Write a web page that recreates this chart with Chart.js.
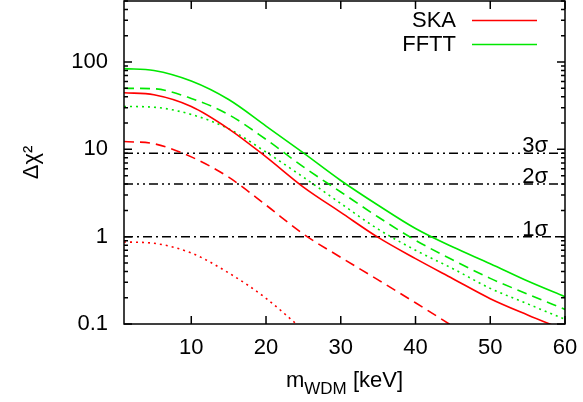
<!DOCTYPE html>
<html>
<head>
<meta charset="utf-8">
<script src="https://cdn.jsdelivr.net/npm/chart.js@4.4.1/dist/chart.umd.min.js"></script>
<style>
  html, body { margin: 0; padding: 0; background: #fff; }
  #wrap { width: 583px; height: 402px; }
</style>
</head>
<body>
<div id="wrap"><canvas id="grafica"></canvas></div>
<script>
// masas de WDM (keV) donde se leyeron las curvas
const masas = [1, 5, 10, 15, 20, 25, 30, 35, 40, 45, 50, 55, 60];

// SKA (rojo)
const skaSolida  = [44.5, 42.2, 31, 17.2, 8.2, 3.7, 1.9, 0.98, 0.56, 0.33, 0.195, 0.127, 0.085];
const skaGuiones = [12.3, 11.6, 8.2, 4.8, 2.3, 1.07, 0.58, 0.32, 0.175, 0.094, null, null, null];
const skaPuntos  = [0.87, 0.84, 0.65, 0.385, 0.197, 0.085, null, null, null, null, null, null, null];

// FFTT (verde)
const ffttSolida  = [84, 80, 60.6, 37.2, 18.5, 9.1, 4.4, 2.29, 1.24, 0.76, 0.49, 0.31, 0.205];
const ffttGuiones = [50, 49.4, 38.3, 25, 13, 6.3, 3.25, 1.68, 0.91, 0.54, 0.333, 0.22, 0.147];
const ffttPuntos  = [31, 30.4, 25.1, 17.2, 9.3, 4.8, 2.4, 1.22, 0.70, 0.43, 0.256, 0.17, 0.113];

// niveles de confianza
const niveles = [9, 4, 1];
const nivelesTexto = ['3σ', '2σ', '1σ'];

const ticksX = [10, 20, 30, 40, 50, 60];
const ticksY = [0.1, 1, 10, 100];

const ROJO = '#ff0000';
const VERDE = '#00e800';
const FUENTE = "'Liberation Sans', Arial, sans-serif";

const puntos = (arr) => masas.map((m, i) => ({ x: m, y: arr[i] })).filter(p => p.y !== null);

const curva = (arr, color, dash) => ({
    data: puntos(arr),
    borderColor: color,
    borderWidth: 1.6,
    borderDash: dash,
    pointRadius: 0,
    fill: false,
    cubicInterpolationMode: 'monotone'
});

const GUION = [10, 6];
const PUNTO = [2, 4];

const datasets = [
    curva(skaSolida, ROJO, []),
    curva(skaGuiones, ROJO, GUION),
    curva(skaPuntos, ROJO, PUNTO),
    curva(ffttSolida, VERDE, []),
    curva(ffttGuiones, VERDE, GUION),
    curva(ffttPuntos, VERDE, PUNTO)
];

// lineas horizontales de 3σ, 2σ (raya-punto-punto) y 1σ (raya-punto)
niveles.forEach((n, i) => {
    datasets.push({
        data: [{ x: masas[0], y: n }, { x: masas[masas.length - 1], y: n }],
        borderColor: '#000',
        borderWidth: 1.5,
        borderDash: i < 2 ? [9, 4, 2, 4, 2, 4] : [9, 4, 2, 4],
        pointRadius: 0,
        tension: 0
    });
});

const marco = {
    id: 'marco',
    afterDatasetsDraw(chart) {
        const { ctx, chartArea: a, scales: { x, y } } = chart;
        ctx.save();
        ctx.strokeStyle = '#000';
        ctx.lineWidth = 1.5;
        ctx.setLineDash([]);
        ctx.strokeRect(a.left, a.top, a.right - a.left, a.bottom - a.top);

        ctx.beginPath();
        ticksX.forEach(v => {
            const px = x.getPixelForValue(v);
            ctx.moveTo(px, a.bottom); ctx.lineTo(px, a.bottom - 8);
            ctx.moveTo(px, a.top); ctx.lineTo(px, a.top + 8);
        });
        for (let d = -1; d <= 2; d++) {
            for (let m = 1; m <= 9; m++) {
                const v = m * Math.pow(10, d);
                if (v > y.max) continue;
                const py = y.getPixelForValue(v);
                const len = m === 1 ? 8 : 4;
                ctx.moveTo(a.left, py); ctx.lineTo(a.left + len, py);
                ctx.moveTo(a.right, py); ctx.lineTo(a.right - len, py);
            }
        }
        ctx.stroke();

        // etiquetas de sigma
        ctx.fillStyle = '#000';
        ctx.font = '22px ' + FUENTE;
        ctx.textAlign = 'right';
        ctx.textBaseline = 'alphabetic';
        niveles.forEach((n, i) => {
            ctx.fillText(nivelesTexto[i], a.right - 17, y.getPixelForValue(n) - 1);
        });

        // leyenda
        const leyenda = [['SKA', ROJO, 20.5], ['FFTT', VERDE, 44.5]];
        ctx.textBaseline = 'middle';
        leyenda.forEach(([txt, col, yy]) => {
            ctx.fillStyle = '#000';
            ctx.fillText(txt, 456, yy);
            ctx.strokeStyle = col;
            ctx.lineWidth = 1.6;
            ctx.beginPath();
            ctx.moveTo(472, yy); ctx.lineTo(537, yy);
            ctx.stroke();
        });

        // titulo eje x con subindice
        const base = 387;
        ctx.textAlign = 'left';
        ctx.textBaseline = 'alphabetic';
        ctx.fillStyle = '#000';
        ctx.font = '22px ' + FUENTE;
        const wM = ctx.measureText('m').width;
        const wK = ctx.measureText(' [keV]').width;
        ctx.font = '17px ' + FUENTE;
        const wS = ctx.measureText('WDM').width;
        const total = wM + wS + wK;
        let cx = (a.left + a.right) / 2 - total / 2;
        ctx.font = '22px ' + FUENTE;
        ctx.fillText('m', cx, base);
        cx += wM;
        ctx.font = '17px ' + FUENTE;
        ctx.fillText('WDM', cx, base + 7);
        cx += wS;
        ctx.font = '22px ' + FUENTE;
        ctx.fillText(' [keV]', cx, base);
        ctx.restore();
    }
};

const grafica = new Chart(document.getElementById('grafica'), {
    type: 'line',
    data: { datasets: datasets },
    options: {
        responsive: true,
        maintainAspectRatio: false,
        animation: false,
        layout: { padding: { top: 1, right: 18, bottom: 0, left: 0 } },
        plugins: {
            legend: { display: false },
            tooltip: { enabled: false }
        },
        scales: {
            x: {
                type: 'linear',
                min: 1,
                max: 60,
                grid: { display: false, drawTicks: false },
                border: { display: false },
                afterBuildTicks: (s) => { s.ticks = ticksX.map(v => ({ value: v })); },
                afterFit: (s) => { s.height = 78; s.paddingLeft = 0; s.paddingRight = 0; },
                ticks: {
                    padding: 11,
                    color: '#000',
                    font: { family: FUENTE, size: 22 },
                    maxRotation: 0,
                    callback: (v) => String(v)
                }
            },
            y: {
                type: 'logarithmic',
                min: 0.1,
                max: 500,
                grid: { display: false, drawTicks: false },
                border: { display: false },
                afterBuildTicks: (s) => { s.ticks = ticksY.map(v => ({ value: v })); },
                afterFit: (s) => { s.width = 124; s.paddingTop = 0; s.paddingBottom = 0; },
                ticks: {
                    padding: 16,
                    color: '#000',
                    font: { family: FUENTE, size: 22 },
                    callback: (v) => String(v)
                },
                title: {
                    display: true,
                    text: 'Δχ²',
                    color: '#000',
                    font: { family: FUENTE, size: 22 },
                    padding: { top: 19, bottom: 0 }
                }
            }
        }
    },
    plugins: [marco]
});
</script>
</body>
</html>
